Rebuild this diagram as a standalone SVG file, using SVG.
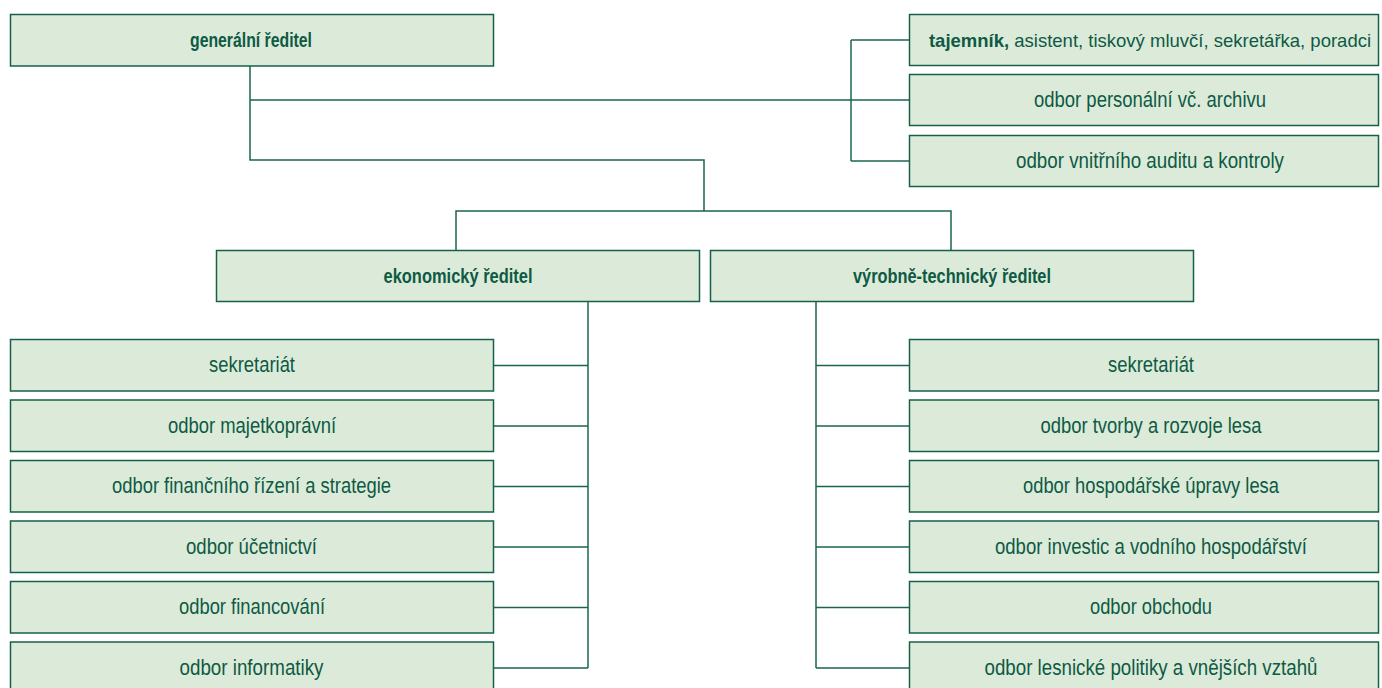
<svg xmlns="http://www.w3.org/2000/svg" width="1382" height="688" viewBox="0 0 1382 688">
<style>
.box{fill:#dcebd9;stroke:#17604a;stroke-width:1.5}
.t{font-family:"Liberation Sans",Arial,sans-serif;font-size:22px;fill:#0e5a44;text-anchor:middle}
.b{font-family:"Liberation Sans",Arial,sans-serif;font-size:21px;font-weight:bold;fill:#0e5a44;text-anchor:middle}
.c{fill:none;stroke:#1a6550;stroke-width:1.5}
</style>
<rect width="1382" height="688" fill="#ffffff"/>
<g id="connectors" class="c">
<path d="M250 66 V160 H704 V211"/>
<path d="M250 100 H909"/>
<path d="M456 250 V211 H951 V250"/>
<path d="M851 40 V161"/>
<path d="M851 40 H909"/>
<path d="M851 161 H909"/>
<path d="M588 302 V668"/>
<path d="M493 365.5 H588 M493 426 H588 M493 486.5 H588 M493 547 H588 M493 607.5 H588 M493 668 H588"/>
<path d="M816 302 V668"/>
<path d="M816 365.5 H909 M816 426 H909 M816 486.5 H909 M816 547 H909 M816 607.5 H909 M816 668 H909"/>
</g>
<g id="generalni-reditel"><rect class="box" x="10.5" y="14.5" width="483" height="51.5"/><text class="b" x="251" y="47" textLength="122" lengthAdjust="spacingAndGlyphs">generální ředitel</text></g>
<g id="tajemnik"><rect class="box" x="909.5" y="14.5" width="469" height="51"/><text class="t" x="1150" y="47" style="font-size:18.5px"><tspan font-weight="bold">tajemník,</tspan> asistent, tiskový mluvčí, sekretářka, poradci</text></g>
<g id="personalni"><rect class="box" x="909.5" y="74.5" width="469" height="51"/><text class="t" x="1150" y="107" textLength="232" lengthAdjust="spacingAndGlyphs">odbor personální vč. archivu</text></g>
<g id="audit"><rect class="box" x="909.5" y="135.5" width="469" height="51"/><text class="t" x="1150" y="168" textLength="268" lengthAdjust="spacingAndGlyphs">odbor vnitřního auditu a kontroly</text></g>
<g id="ekonomicky-reditel"><rect class="box" x="216.5" y="250.5" width="483" height="51"/><text class="b" x="458" y="283" textLength="149" lengthAdjust="spacingAndGlyphs">ekonomický ředitel</text></g>
<g id="vyrobne-technicky-reditel"><rect class="box" x="710.5" y="250.5" width="483" height="51"/><text class="b" x="952" y="283" textLength="198" lengthAdjust="spacingAndGlyphs">výrobně-technický ředitel</text></g>
<g id="e-sekretariat"><rect class="box" x="10.5" y="339.5" width="483" height="51.5"/><text class="t" x="252" y="372" textLength="86" lengthAdjust="spacingAndGlyphs">sekretariát</text></g>
<g id="e-majetkopravni"><rect class="box" x="10.5" y="400" width="483" height="51.5"/><text class="t" x="252" y="432.5" textLength="168" lengthAdjust="spacingAndGlyphs">odbor majetkoprávní</text></g>
<g id="e-financni-rizeni"><rect class="box" x="10.5" y="460.5" width="483" height="51.5"/><text class="t" x="251.5" y="493" textLength="279" lengthAdjust="spacingAndGlyphs">odbor finančního řízení a strategie</text></g>
<g id="e-ucetnictvi"><rect class="box" x="10.5" y="521" width="483" height="51.5"/><text class="t" x="251.5" y="553.5" textLength="131" lengthAdjust="spacingAndGlyphs">odbor účetnictví</text></g>
<g id="e-financovani"><rect class="box" x="10.5" y="581.5" width="483" height="51.5"/><text class="t" x="252" y="614" textLength="146" lengthAdjust="spacingAndGlyphs">odbor financování</text></g>
<g id="e-informatiky"><rect class="box" x="10.5" y="642" width="483" height="51.5"/><text class="t" x="251.5" y="674.5" textLength="144" lengthAdjust="spacingAndGlyphs">odbor informatiky</text></g>
<g id="v-sekretariat"><rect class="box" x="909.5" y="339.5" width="469" height="51.5"/><text class="t" x="1151" y="372" textLength="86" lengthAdjust="spacingAndGlyphs">sekretariát</text></g>
<g id="v-tvorby"><rect class="box" x="909.5" y="400" width="469" height="51.5"/><text class="t" x="1151" y="432.5" textLength="221" lengthAdjust="spacingAndGlyphs">odbor tvorby a rozvoje lesa</text></g>
<g id="v-hup"><rect class="box" x="909.5" y="460.5" width="469" height="51.5"/><text class="t" x="1151" y="493" textLength="256" lengthAdjust="spacingAndGlyphs">odbor hospodářské úpravy lesa</text></g>
<g id="v-investic"><rect class="box" x="909.5" y="521" width="469" height="51.5"/><text class="t" x="1151" y="553.5" textLength="312" lengthAdjust="spacingAndGlyphs">odbor investic a vodního hospodářství</text></g>
<g id="v-obchodu"><rect class="box" x="909.5" y="581.5" width="469" height="51.5"/><text class="t" x="1151" y="614" textLength="122" lengthAdjust="spacingAndGlyphs">odbor obchodu</text></g>
<g id="v-lesnicke"><rect class="box" x="909.5" y="642" width="469" height="51.5"/><text class="t" x="1151" y="674.5" textLength="333" lengthAdjust="spacingAndGlyphs">odbor lesnické politiky a vnějších vztahů</text></g>
</svg>
